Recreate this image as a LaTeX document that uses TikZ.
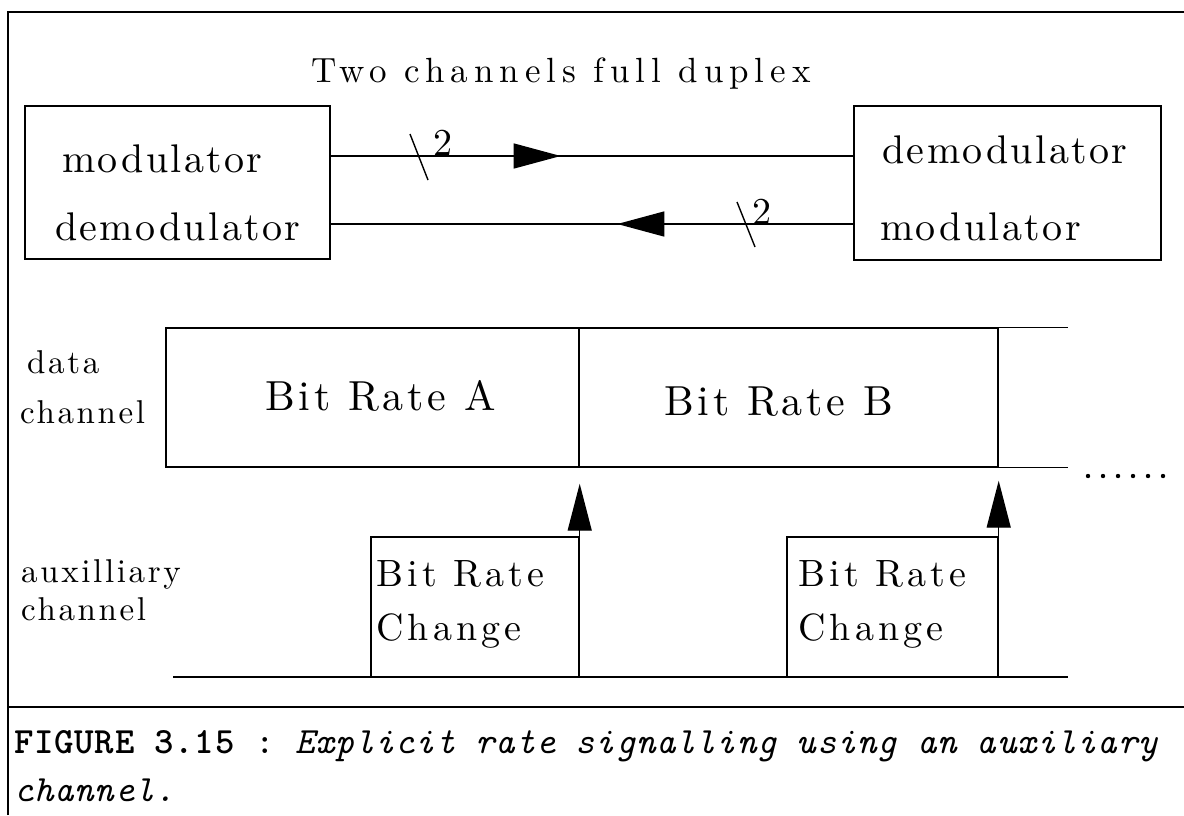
\documentclass[tikz,border=0pt]{standalone}
\usepackage{fontspec}
\setmainfont{lmroman10-regular.otf}
\setmonofont{lmmono10-regular.otf}[BoldFont=lmmonolt10-bold.otf, ItalicFont=lmmono10-italic.otf]
\usetikzlibrary{arrows.meta,decorations.markings}

% size (pt) and letter spacing (percent of em)
\newcommand\spacedfont[2]{\fontsize{#1}{#1}\selectfont\addfontfeatures{LetterSpace=#2}}

\tikzset{
  thin/.style={line width=1.4pt},
  frame/.style={line width=2.6pt},
  box/.style={draw, line width=1.4pt, inner sep=0pt, rectangle},
  lbl/.style={anchor=base west, inner sep=0pt},
  boxtext/.style={lbl, font=\spacedfont{40}{6}},
  ratetext/.style={lbl, font=\spacedfont{42}{9}},
  auxtext/.style={lbl, font=\spacedfont{38}{11}},
  sidetext/.style={lbl, font=\spacedfont{33}{8}},
  captext/.style={lbl, font=\ttfamily\fontsize{37}{40}\selectfont\addfontfeatures{LetterSpace=2}},
  busnum/.style={lbl, font=\fontsize{38}{38}\selectfont},
  uptip/.style={-{Triangle[length=47pt,width=24pt]}},
  midtip/.style={postaction={decorate}, decoration={markings,
      mark=at position #1 with {\arrow{Triangle[length=47pt,width=25pt]}}}}
}

\begin{document}
\begin{tikzpicture}[x=1pt,y=-1pt]
\useasboundingbox (0,0) rectangle (1184,815);

% outer frame and caption separator
\draw[frame] (8,815) -- (8,12) -- (1184,12);
\draw[frame] (8,707) -- (1184,707);

% title
\node[lbl, font=\spacedfont{35}{17}] (title) at (311,82) {Two channels full duplex};

% modem boxes
\node[box, minimum width=305pt, minimum height=153pt] (lbox) at (177.5,182.5) {};
\node[box, minimum width=307pt, minimum height=154pt] (rbox) at (1007.5,183) {};
\node[boxtext] (lmod) at (62,172) {modulator};
\node[boxtext] (ldem) at (55,240) {demodulator};
\node[boxtext] (rdem) at (882,163) {demodulator};
\node[boxtext] (rmod) at (880,240) {modulator};

% the two channels
\coordinate (yfwd) at (0,156);
\coordinate (ybwd) at (0,224);
\draw[thin, midtip=230pt] (lbox.east |- yfwd) -- (rbox.west |- yfwd);
\draw[thin, midtip=236pt] (rbox.west |- ybwd) -- (lbox.east |- ybwd);
\coordinate (s1a) at (410,134); \coordinate (s1b) at (428,180);
\draw[thin] (s1a) -- (s1b);
\node[busnum] (n1) at (433,155) {2};
\coordinate (s2a) at (737,202); \coordinate (s2b) at (755,247);
\draw[thin] (s2a) -- (s2b);
\node[busnum] (n2) at (752,224) {2};

% data channel
\node[box, minimum width=413pt, minimum height=139pt] (cellA) at (372.5,397.5) {};
\node[box, minimum width=419pt, minimum height=139pt] (cellB) at (788.5,397.5) {};
\coordinate (dend) at (1068,0);
\draw[thin] (cellB.north east) -- (cellB.north east -| dend);
\draw[thin] (cellB.south east) -- (cellB.south east -| dend);
\node[ratetext] (rateA) at (265,410) {Bit Rate A};
\node[ratetext] (rateB) at (664,415) {Bit Rate B};
\foreach \i in {0,...,5} \fill (1088+15*\i,476) circle (2.2pt);

\node[sidetext] (dat1) at (27,373) {data};
\node[sidetext] (dat2) at (20,423) {channel};

% auxiliary channel
\node[box, minimum width=208pt, minimum height=140pt] (aux1) at (475,607) {};
\node[box, minimum width=211pt, minimum height=140pt] (aux2) at (892.5,607) {};
\coordinate (abeg) at (173,677);
\coordinate (aend) at (1068,677);
\draw[thin] (abeg) -- (aend);
\draw[thin, uptip, shorten >=16pt] (aux1.south east) -- (cellA.south east);
\draw[thin, uptip, shorten >=13pt] (aux2.south east) -- (cellB.south east);
\node[auxtext] (c1a) at (376,586) {Bit Rate};
\node[auxtext] (c1b) at (376,640) {Change};
\node[auxtext] (c2a) at (798,586) {Bit Rate};
\node[auxtext] (c2b) at (798,640) {Change};

\node[sidetext] (aux3) at (21,582) {auxilliary};
\node[sidetext] (aux4) at (21,620) {channel};

% caption
\node[captext] (cap1) at (14,753)
  {\textbf{FIGURE 3.15} : \textit{Explicit rate signalling using an auxiliary}};
\node[captext] (cap2) at (14,801) {\textit{channel.}};
\end{tikzpicture}
\end{document}
